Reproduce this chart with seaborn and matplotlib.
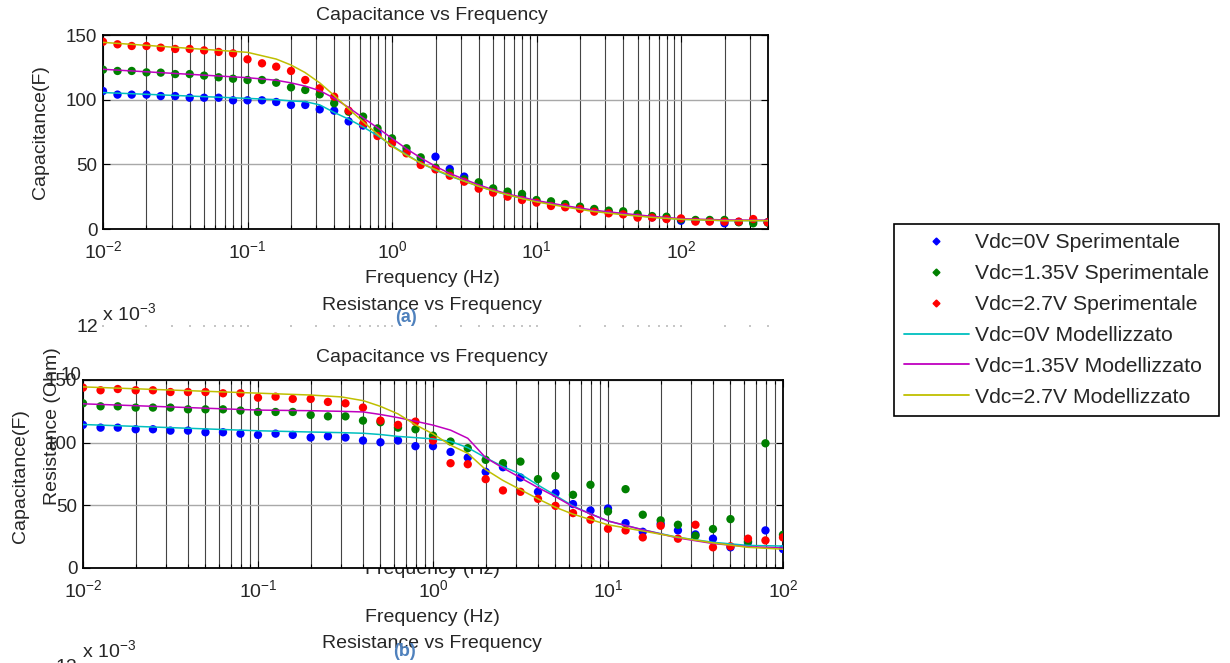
import matplotlib
matplotlib.use("Agg")
import matplotlib.pyplot as plt
import seaborn as sns
import pandas as pd
from matplotlib.lines import Line2D
from matplotlib.ticker import LogLocator, FixedLocator, NullFormatter, LogFormatterMathtext

# ---------------- data ----------------
FREQ_A = [0.01, 0.0126, 0.0158, 0.02, 0.0251, 0.0316, 0.0398, 0.0501, 0.0631, 0.0794,
          0.1, 0.126, 0.158, 0.2, 0.251, 0.316, 0.398, 0.501, 0.631, 0.794,
          1, 1.26, 1.58, 2, 2.51, 3.16, 3.98, 5.01, 6.31, 7.94,
          10, 12.6, 15.8, 20, 25.1, 31.6, 39.8, 50.1, 63.1, 79.4,
          100, 126, 158, 200, 251, 316, 398]
FREQ_B = FREQ_A[:41]

# panel (a) experimental capacitance
CAP_A_0V = [106.7, 103.9, 103.9, 103.9, 102.8, 102.8, 101.5, 101.5, 101.5, 99.5,
            99.5, 99.5, 98.2, 95.9, 95.9, 92.5, 91.5, 83.2, 80, 74,
            66.8, 59.8, 52, 55.9, 46.4, 40.5, 34, 30.2, 27, 25,
            21.1, 19.3, 18.3, 16, 14.7, 12.9, 12.1, 10, 9, 8.2,
            6.4, 6.2, 6.2, 4.4, 5.5, 6.0, 5.2]
CAP_A_135V = [123.2, 122.2, 122.2, 121.1, 120.9, 119.8, 119.8, 118.6, 117.3, 116.2,
              115.2, 115.2, 113.1, 109.5, 107.5, 104.1, 97.2, 90.7, 86.9, 77.8,
              70.1, 62.4, 55.4, 47.4, 43.6, 38.4, 36.1, 31.4, 28.9, 27.1,
              22.4, 21.4, 19.3, 17.3, 15.5, 14.2, 13.7, 11.6, 10, 9.5,
              7.5, 7, 7, 7, 5.2, 4.4, 4.9]
CAP_A_27V = [144.8, 142.8, 141.5, 141.5, 140.2, 139.2, 139.2, 138.1, 136.9, 135.8,
             131.2, 128.1, 125.5, 122.2, 115.2, 108.8, 102.3, 91.5, 81.2, 71.9,
             66.2, 58.5, 49.5, 46.1, 41.2, 36.6, 31.2, 28.1, 25, 22.4,
             20.4, 17.8, 16.8, 15.5, 13.4, 12.1, 11.3, 8.8, 8.8, 7.7,
             8.2, 5.7, 5.7, 5.7, 5.7, 7.7, 5.2]

# panel (a) model curves
MOD_FREQ_A = [0.01, 0.1, 0.158, 0.2, 0.25, 0.316, 0.4, 0.5, 0.63, 0.8, 1, 1.26, 1.58,
              2, 2.5, 3.16, 4, 5, 6.3, 8, 10, 15.8, 25, 40, 63, 100, 200, 400]
MOD_A_0V = [105.5, 101, 100, 99, 98.5, 96, 90, 85, 79, 72, 64.5, 57.5, 51,
            45.5, 41, 37, 33, 29.5, 26.5, 23.5, 21.5, 17.5, 14, 11.5, 9.2, 7.5, 6.5, 6.5]
MOD_A_135V = [123.5, 117, 115, 113, 110.5, 107, 101, 94, 86, 78, 70, 62, 55,
              48.5, 43, 38.5, 34, 30.5, 27, 24.5, 22, 18, 14.5, 12, 9.8, 8, 7, 6.8]
MOD_A_27V = [144.3, 136.6, 131.4, 126.8, 121, 113, 103, 93, 83, 73, 64, 57, 51,
             46, 41.5, 37, 33, 29.5, 26.5, 23.5, 21, 17, 13.5, 11, 9, 7.5, 6.5, 6.5]

# panel (b) experimental capacitance
CAP_B_0V = [114.2, 112, 112, 110.7, 110.7, 109.6, 109.6, 108.3, 108.3, 107.2,
            106.2, 107.2, 106.2, 104.1, 105.1, 104.1, 101.7, 100.3, 101.7, 97.2,
            97.2, 92.6, 88.1, 76.7, 80.4, 72.2, 60.8, 59.7, 51, 45.9,
            47.5, 35.8, 28.9, 35.3, 30, 26.8, 23.4, 16.5, 20.4, 30, 15.1]
CAP_B_135V = [131.4, 129, 129, 128, 128, 128, 126.6, 126.6, 126.6, 125.6,
              124.5, 124.5, 124.5, 122.1, 121, 121, 117.6, 116.3, 112, 110.7,
              105.6, 100.9, 95.6, 86.3, 83.6, 84.9, 70.9, 73.5, 58.4, 66.4,
              45.1, 62.9, 42.5, 38, 34.5, 25.7, 31.1, 39, 21.2, 99.5, 26.5]
CAP_B_27V = [143.9, 141.8, 142.8, 141.8, 141.8, 140.4, 140.4, 140.4, 139.4, 139.4,
             135.9, 136.7, 134.9, 134.9, 132.5, 131.4, 128, 117.6, 114.2, 116.8,
             101.7, 83.6, 82.8, 70.9, 61.9, 60.8, 55.2, 49.6, 43.8, 38.5,
             31.3, 30, 24.4, 33.7, 23.4, 34.5, 16.5, 17.3, 23.4, 22, 24.4]

# panel (b) model curves
MOD_FREQ_B = [0.01, 0.1, 0.2, 0.3, 0.4, 0.5, 0.63, 0.8, 1, 1.26, 1.58, 2, 2.5,
              3.16, 4, 5, 6.3, 8, 10, 15.8, 25, 40, 63, 100]
MOD_B_0V = [114.5, 109.5, 108.5, 108, 107.5, 106.5, 105, 104, 103, 101, 96, 88, 81,
            75, 66, 58, 49.5, 43, 37.5, 30.5, 24.5, 20.5, 18, 17.5]
MOD_B_135V = [131, 126, 125.5, 125, 124.5, 122.5, 120, 117, 114, 110, 103.5, 88, 80,
              72, 64, 57, 49, 43, 37.5, 30.5, 24, 19.5, 17, 16]
MOD_B_27V = [144.5, 139.5, 138, 136.5, 133.5, 129, 123, 114, 107, 98, 91.5, 78.5, 70,
             62.5, 55, 48.5, 43, 38.5, 34.5, 29.5, 24.5, 20, 16.5, 15]

LABELS_EXP = ["Vdc=0V Sperimentale", "Vdc=1.35V Sperimentale", "Vdc=2.7V Sperimentale"]
LABELS_MOD = ["Vdc=0V Modellizzato", "Vdc=1.35V Modellizzato", "Vdc=2.7V Modellizzato"]

# ---------------- style ----------------
EXP_COLORS = ["#0000FF", "#008000", "#FF0000"]
MOD_COLORS = ["#00BFBF", "#BF00BF", "#BFBF00"]
CAPTION_BLUE = "#4F81BD"

sns.set_theme(style="white")
plt.rcParams["font.family"] = ["Liberation Sans", "DejaVu Sans"]
plt.rcParams["mathtext.fontset"] = "custom"
plt.rcParams["mathtext.rm"] = "Liberation Sans"
plt.rcParams["mathtext.it"] = "Liberation Sans:italic"
plt.rcParams["mathtext.bf"] = "Liberation Sans:bold"

W, H = 1230, 663
fig = plt.figure(figsize=(12.3, 6.63), dpi=100)


def fx(px):
    return px / W


def fy(py):
    return 1 - py / H


def make_axes(left, right, top, bottom):
    return fig.add_axes([fx(left), fy(bottom), fx(right) - fx(left), fy(top) - fy(bottom)])


def style_axes(ax, xmax):
    ax.set_xscale("log")
    ax.set_xlim(0.01, xmax)
    ax.set_ylim(0, 150)
    ax.set_yticks([0, 50, 100, 150])
    ax.xaxis.set_major_locator(LogLocator(base=10, numticks=10))
    ax.xaxis.set_major_formatter(LogFormatterMathtext())
    ax.xaxis.set_minor_locator(LogLocator(base=10, subs=range(2, 10), numticks=20))
    ax.xaxis.set_minor_formatter(NullFormatter())
    ax.grid(True, which="both", axis="x", color="#444444", lw=0.8)
    ax.grid(True, which="major", axis="y", color="#A8A8A8", lw=1.0)
    ax.set_axisbelow(True)
    ax.tick_params(which="both", direction="in", top=True, right=True, bottom=True, left=True,
                   color="black", width=0.8)
    ax.tick_params(which="major", length=5)
    ax.tick_params(which="minor", length=3)
    ax.tick_params(axis="y", labelsize=13.5, pad=4)
    ax.tick_params(axis="x", labelsize=14, pad=8)
    for s in ax.spines.values():
        s.set_color("black")
        s.set_linewidth(1.3)
    ax.set_xlabel("")
    ax.set_ylabel("")


def draw_panel(ax, freq, exps, mfreq, mods):
    for vals, c in zip(exps, EXP_COLORS):
        sns.scatterplot(x=freq, y=vals, ax=ax, color=c, s=36, edgecolor="none",
                        legend=False, zorder=3)
    for vals, c in zip(mods, MOD_COLORS):
        sns.lineplot(x=mfreq, y=vals, ax=ax, color=c, lw=1.1, legend=False,
                     sort=False, estimator=None, zorder=4)


# ---- top figure (a) ----
ax_a = make_axes(103, 768, 35, 229)
draw_panel(ax_a, FREQ_A, [CAP_A_0V, CAP_A_135V, CAP_A_27V],
           MOD_FREQ_A, [MOD_A_0V, MOD_A_135V, MOD_A_27V])
style_axes(ax_a, 400)

# ---- bottom figure (b) ----
ax_b = make_axes(83, 783, 380, 568)
draw_panel(ax_b, FREQ_B, [CAP_B_0V, CAP_B_135V, CAP_B_27V],
           MOD_FREQ_B, [MOD_B_0V, MOD_B_135V, MOD_B_27V])
style_axes(ax_b, 100)

# faint top edge of the (hidden) resistance axes under panel (a)
ax_r = make_axes(103, 768, 326, 327)
ax_r.set_xscale("log")
ax_r.set_xlim(0.01, 400)
ax_r.xaxis.set_major_locator(LogLocator(base=10, numticks=10))
ax_r.xaxis.set_minor_locator(LogLocator(base=10, subs=range(2, 10), numticks=20))
ax_r.set_yticks([])
ax_r.tick_params(which="both", direction="in", bottom=True, length=1.5, color="#BBBBBB",
                 labelbottom=False, width=1.2)
for s in ax_r.spines.values():
    s.set_visible(False)
ax_r.patch.set_alpha(0)

# ---- texts, panel (a) ----
FS = 14
fig.text(fx(432), fy(15), "Capacitance vs Frequency", ha="center", va="center", fontsize=FS)
fig.text(fx(432), fy(278), "Frequency (Hz)", ha="center", va="center", fontsize=FS)
fig.text(fx(40), fy(132), "Capacitance(F)", ha="center", va="center", rotation=90, fontsize=FS)
fig.text(fx(432), fy(306), "Resistance vs Frequency", ha="center", va="center", fontsize=FS)
fig.text(fx(102), fy(313), r"x 10$^{-3}$", ha="left", va="center", fontsize=FS)
fig.text(fx(98), fy(328), "12", ha="right", va="center", fontsize=FS)
fig.text(fx(406), fy(317), "(a)", ha="center", va="center", fontsize=13,
         color=CAPTION_BLUE, fontweight="bold")

# ---- texts, panel (b) ----
fig.text(fx(432), fy(358), "Capacitance vs Frequency", ha="center", va="center", fontsize=FS)
fig.text(fx(432), fy(569), "Frequency (Hz)", ha="center", va="center", fontsize=FS, zorder=-1)
fig.text(fx(432), fy(617), "Frequency (Hz)", ha="center", va="center", fontsize=FS)
fig.text(fx(21), fy(476), "Capacitance(F)", ha="center", va="center", rotation=90, fontsize=FS)
fig.text(fx(53), fy(426), "Resistance (Ohm)", ha="center", va="center", rotation=90, fontsize=FS)
fig.text(fx(81), fy(375), "10", ha="right", va="center", fontsize=13.5)
fig.text(fx(432), fy(643), "Resistance vs Frequency", ha="center", va="center", fontsize=FS)
fig.text(fx(82), fy(650), r"x 10$^{-3}$", ha="left", va="center", fontsize=FS)
fig.text(fx(77), fy(668), "12", ha="right", va="center", fontsize=FS)
fig.text(fx(404), fy(652), "(b)", ha="center", va="center", fontsize=13,
         color=CAPTION_BLUE, fontweight="bold")

# ---- legend ----
handles = [Line2D([], [], ls="none", marker="D", ms=3.5, color=c) for c in EXP_COLORS] + \
          [Line2D([], [], lw=1.3, color=c) for c in MOD_COLORS]
leg = fig.legend(handles, LABELS_EXP + LABELS_MOD, loc="upper left",
                 bbox_to_anchor=(fx(894), fy(224)), borderaxespad=0,
                 frameon=True, fancybox=False, edgecolor="black", framealpha=1,
                 prop={"family": "Liberation Sans", "size": 15.2},
                 borderpad=0.45, labelspacing=0.56, handlelength=3.1, handletextpad=0.3)
leg.get_frame().set_linewidth(1.2)

fig.savefig("out.png", dpi=100)
